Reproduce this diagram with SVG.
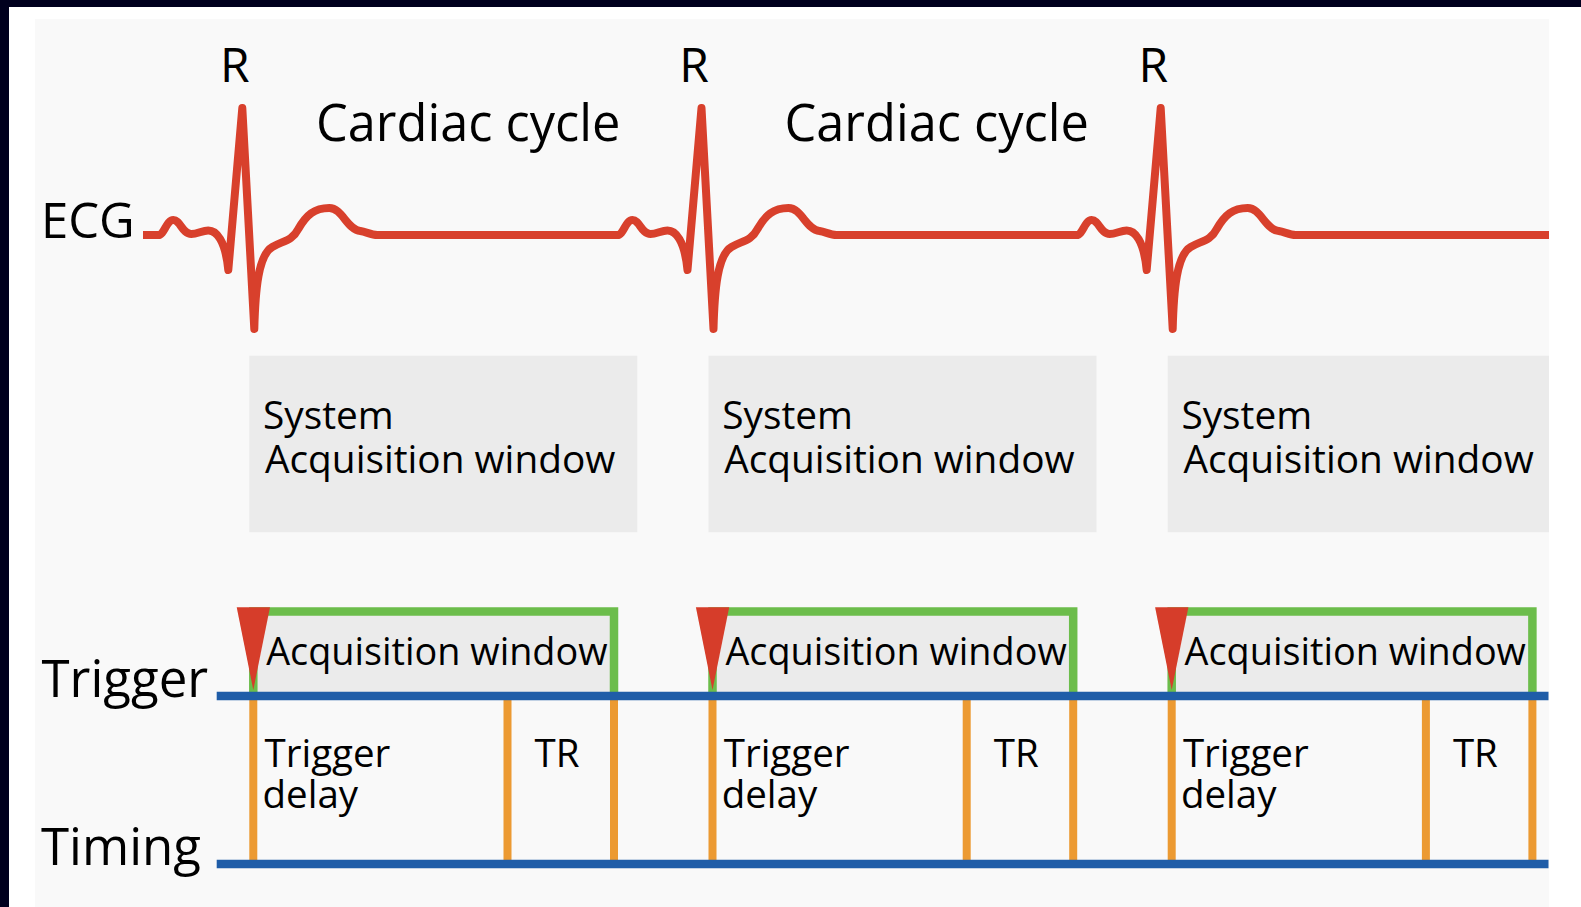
<svg xmlns="http://www.w3.org/2000/svg" width="1581" height="907" viewBox="0 0 1581 907">
<style>
text{font-family:"Open Sans","Noto Sans","Liberation Sans",sans-serif;fill:#000}
.big{font-size:51px}
.lbl{font-size:48px}
.ecgl{font-size:49px}
.cc{font-size:50.5px}
.sys{font-size:38.8px}
.aw{font-size:37.8px}
.sm{font-size:38.5px}
.box{fill:#ebebeb}
.ecg{fill:none;stroke:#d8402c;stroke-width:8;stroke-linejoin:round;stroke-linecap:butt}
.blue{stroke:#1f5da8;stroke-width:8.5;fill:none}
.orange{stroke:#ec9a32;stroke-width:8;fill:none}
.green{stroke:#6cbd4b;stroke-width:8.5;fill:none;stroke-linejoin:miter}
.tri{fill:#d63d2a}
</style>
<defs>
<clipPath id="panelclip"><rect x="35" y="19" width="1514" height="888"/></clipPath>
<g id="acq">
<rect class="box" x="253.3" y="611.5" width="360.7" height="84.5"/>
<polyline class="green" points="253.3,696 253.3,611.5 614,611.5 614,696"/>
<polygon class="tri" points="236.7,607.3 270,607.3 253.3,690"/>
<text class="aw" x="266.2" y="665">Acquisition window</text>
</g>
<g id="sysbox">
<rect class="box" x="249.3" y="355.7" width="388" height="176.5"/>
<text class="sys"><tspan x="263" y="429.3">System</tspan><tspan x="265" y="472.7">Acquisition window</tspan></text>
</g>
<g id="delay">
<text class="sm"><tspan x="264.5" y="766.7">Trigger</tspan><tspan x="262.5" y="808">delay</tspan></text>
</g>
</defs>
<rect x="0" y="0" width="1581" height="907" fill="#ffffff"/>
<rect x="35" y="19" width="1514" height="888" fill="#f9f9f9"/>
<rect x="0" y="0" width="1581" height="7" fill="#00001e"/>
<rect x="0" y="0" width="9" height="907" fill="#00001e"/>

<g id="label-ecg"><text class="ecgl" x="41" y="238">ECG</text></g>
<g id="label-r1"><text class="lbl" x="220" y="81.7">R</text></g>
<g id="label-r2"><text class="lbl" x="679.3" y="81.7">R</text></g>
<g id="label-r3"><text class="lbl" x="1138.5" y="81.7">R</text></g>
<g id="label-cycle1"><text class="cc" x="316" y="141">Cardiac cycle</text></g>
<g id="label-cycle2"><text class="cc" x="784.5" y="141">Cardiac cycle</text></g>

<g id="system-window-1"><use href="#sysbox"/></g>
<g id="system-window-2"><use href="#sysbox" transform="translate(459.2,0)"/></g>
<g id="system-window-3" clip-path="url(#panelclip)"><use href="#sysbox" transform="translate(918.4,0)"/></g>

<g id="label-trigger"><text class="big" x="41.5" y="696.7">Trigger</text></g>
<g id="label-timing"><text class="big" x="41" y="865">Timing</text></g>

<g id="acq-window-1"><use href="#acq"/></g>
<g id="acq-window-2"><use href="#acq" transform="translate(459.2,0)"/></g>
<g id="acq-window-3"><use href="#acq" transform="translate(918.4,0)"/></g>

<g id="connectors">
<path class="ecg" d="M143 235 H158.3 c6 0 8 -15 15 -15 c7 0 9 14 18 14 c6 0 11 -3.5 17 -3.5 c8 0 17 9.5 20 39.5 l14 -162 l12 221 c1 -39 4 -74 18 -82 c10 -6 20 -6 26 -18 c8 -14 16 -21 31 -21 c13 0 18 22 31 23 c6 1 11 4 17 4 h240.2 c6 0 8 -15 15 -15 c7 0 9 14 18 14 c6 0 11 -3.5 17 -3.5 c8 0 17 9.5 20 39.5 l14 -162 l12 221 c1 -39 4 -74 18 -82 c10 -6 20 -6 26 -18 c8 -14 16 -21 31 -21 c13 0 18 22 31 23 c6 1 11 4 17 4 h240.2 c6 0 8 -15 15 -15 c7 0 9 14 18 14 c6 0 11 -3.5 17 -3.5 c8 0 17 9.5 20 39.5 l14 -162 l12 221 c1 -39 4 -74 18 -82 c10 -6 20 -6 26 -18 c8 -14 16 -21 31 -21 c13 0 18 22 31 23 c6 1 11 4 17 4 H1549"/>
<g id="timing-marks">
<line class="orange" x1="253.3" y1="696" x2="253.3" y2="864"/>
<line class="orange" x1="507.5" y1="696" x2="507.5" y2="864"/>
<line class="orange" x1="614" y1="696" x2="614" y2="864"/>
<line class="orange" x1="712.5" y1="696" x2="712.5" y2="864"/>
<line class="orange" x1="966.7" y1="696" x2="966.7" y2="864"/>
<line class="orange" x1="1073.2" y1="696" x2="1073.2" y2="864"/>
<line class="orange" x1="1171.7" y1="696" x2="1171.7" y2="864"/>
<line class="orange" x1="1425.9" y1="696" x2="1425.9" y2="864"/>
<line class="orange" x1="1532.4" y1="696" x2="1532.4" y2="864"/>
</g>
<line class="blue" x1="216.7" y1="696" x2="1548.5" y2="696"/>
<line class="blue" x1="216.7" y1="864" x2="1548.5" y2="864"/>
</g>

<g id="delay-1"><use href="#delay"/></g>
<g id="delay-2"><use href="#delay" transform="translate(459.2,0)"/></g>
<g id="delay-3"><use href="#delay" transform="translate(918.4,0)"/></g>
<g id="tr-1"><text class="sm" x="534.5" y="767.3">TR</text></g>
<g id="tr-2"><text class="sm" x="993.7" y="767.3">TR</text></g>
<g id="tr-3"><text class="sm" x="1452.9" y="767.3">TR</text></g>
</svg>
